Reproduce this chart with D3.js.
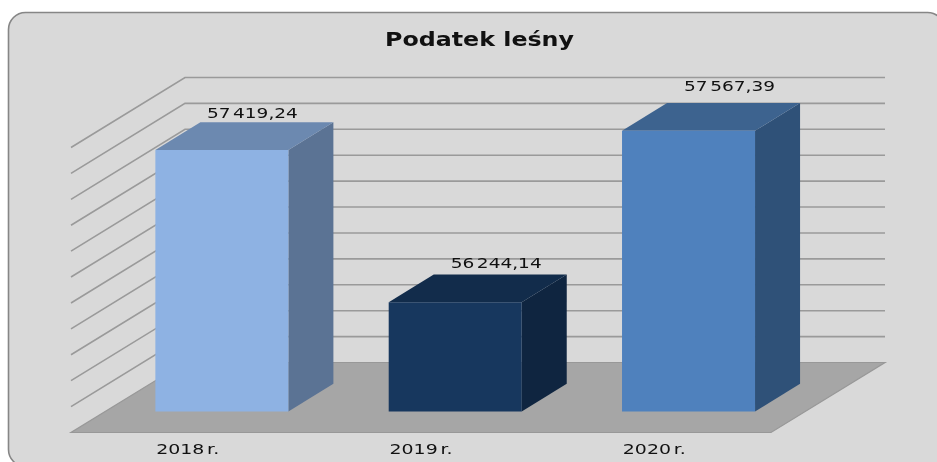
<!DOCTYPE html>
<html><head><meta charset="utf-8">
<script src="https://cdn.jsdelivr.net/npm/d3@7"></script>
<style>html,body{margin:0;padding:0;background:#fff}svg{display:block}text{font-family:"DejaVu Sans",sans-serif;fill:#111}</style>
</head><body><svg id="c" width="937" height="462"></svg>
<script>
const title = "Podatek leśny";
const categories = ["2018 r.", "2019 r.", "2020 r."];
const values = [57419.24, 56244.14, 57567.39];
const valueLabels = ["57 419,24", "56 244,14", "57 567,39"];
const frontColors = ["#8EB2E3", "#17375E", "#4F81BD"];
const topColors = ["#6C89B0", "#122C4B", "#3D638F"];
const sideColors = ["#5B7394", "#0F2540", "#2F5178"];
const axisDomain = [55400, 57600];
const gridCount = 11;
const labelShiftX = [-14.5, -4, -4];
const labelShiftY = [-0.5, -2, -8];

const svg = d3.select("#c");
const defs = svg.append("defs");
defs.append("filter").attr("id", "soft").attr("color-interpolation-filters", "sRGB")
  .append("feGaussianBlur").attr("stdDeviation", 0.4);
const root = svg.append("g").attr("filter", "url(#soft)");
const floorFront = 432.5, plotTop = 147.5, left = 71, right = 771, depthX = 114, depthY = -70;
const x = d3.scaleBand().domain(categories).range([left, right]).paddingInner(0.43).paddingOuter(0.215);
const y = d3.scaleLinear().domain(axisDomain).range([floorFront, plotTop]);
const xc = d3.scaleBand().domain(categories).range([left, right]);
const P = (px, py, d) => [px + depthX * d, py + depthY * d];
const poly = pts => pts.map(p => p.join(",")).join(" ");
const wideText = (sel, w) => sel.attr("textLength", w).attr("lengthAdjust", "spacingAndGlyphs").style("word-spacing", "-2.5px");

root.append("rect").attr("x", 8.5).attr("y", 12.5).attr("width", 936).attr("height", 454).attr("rx", 17)
  .attr("fill", "#D9D9D9").attr("stroke", "#868686").attr("stroke-width", 1.6);

root.append("text").attr("x", 479.5).attr("y", 46).attr("text-anchor", "middle")
  .style("font-size", "20px").style("font-weight", "bold").text(title)
  .attr("textLength", 189).attr("lengthAdjust", "spacingAndGlyphs");

const ticks = d3.range(gridCount + 1).map(i => axisDomain[0] + i * (axisDomain[1] - axisDomain[0]) / gridCount);
root.append("polygon").attr("points", poly([P(left, floorFront, 0), P(right, floorFront, 0), P(right, floorFront, 1), P(left, floorFront, 1)]))
  .attr("fill", "#A6A6A6").attr("stroke", "#989898").attr("stroke-width", 1.2);
root.selectAll(".g").data(ticks.slice(1)).join("polyline").attr("fill", "none").attr("stroke", "#9A9A9A").attr("stroke-width", 1.6)
  .attr("points", t => poly([P(left, y(t), 0), P(left, y(t), 1), P(right, y(t), 1)]));

const d0 = 0.3, d1 = 0.695;
categories.forEach((c, i) => {
  const a = x(c), b = a + x.bandwidth(), t = y(values[i]), base = y(axisDomain[0]);
  root.append("polygon").attr("fill", sideColors[i]).attr("points", poly([P(b, base, d0), P(b, base, d1), P(b, t, d1), P(b, t, d0)]));
  root.append("polygon").attr("fill", topColors[i]).attr("points", poly([P(a, t, d0), P(b, t, d0), P(b, t, d1), P(a, t, d1)]));
  root.append("polygon").attr("fill", frontColors[i]).attr("points", poly([P(a, base, d0), P(b, base, d0), P(b, t, d0), P(a, t, d0)]));
  const top = P(a + x.bandwidth() / 2, t, d1);
  root.append("text").attr("x", top[0] + labelShiftX[i]).attr("y", top[1] - 4 + labelShiftY[i]).attr("text-anchor", "middle")
    .style("font-size", "14px").text(valueLabels[i]).call(wideText, 91);
  root.append("text").attr("x", xc(c) + xc.bandwidth() / 2).attr("y", 454).attr("text-anchor", "middle")
    .style("font-size", "14.5px").text(c).call(wideText, 63);
});
</script></body></html>
